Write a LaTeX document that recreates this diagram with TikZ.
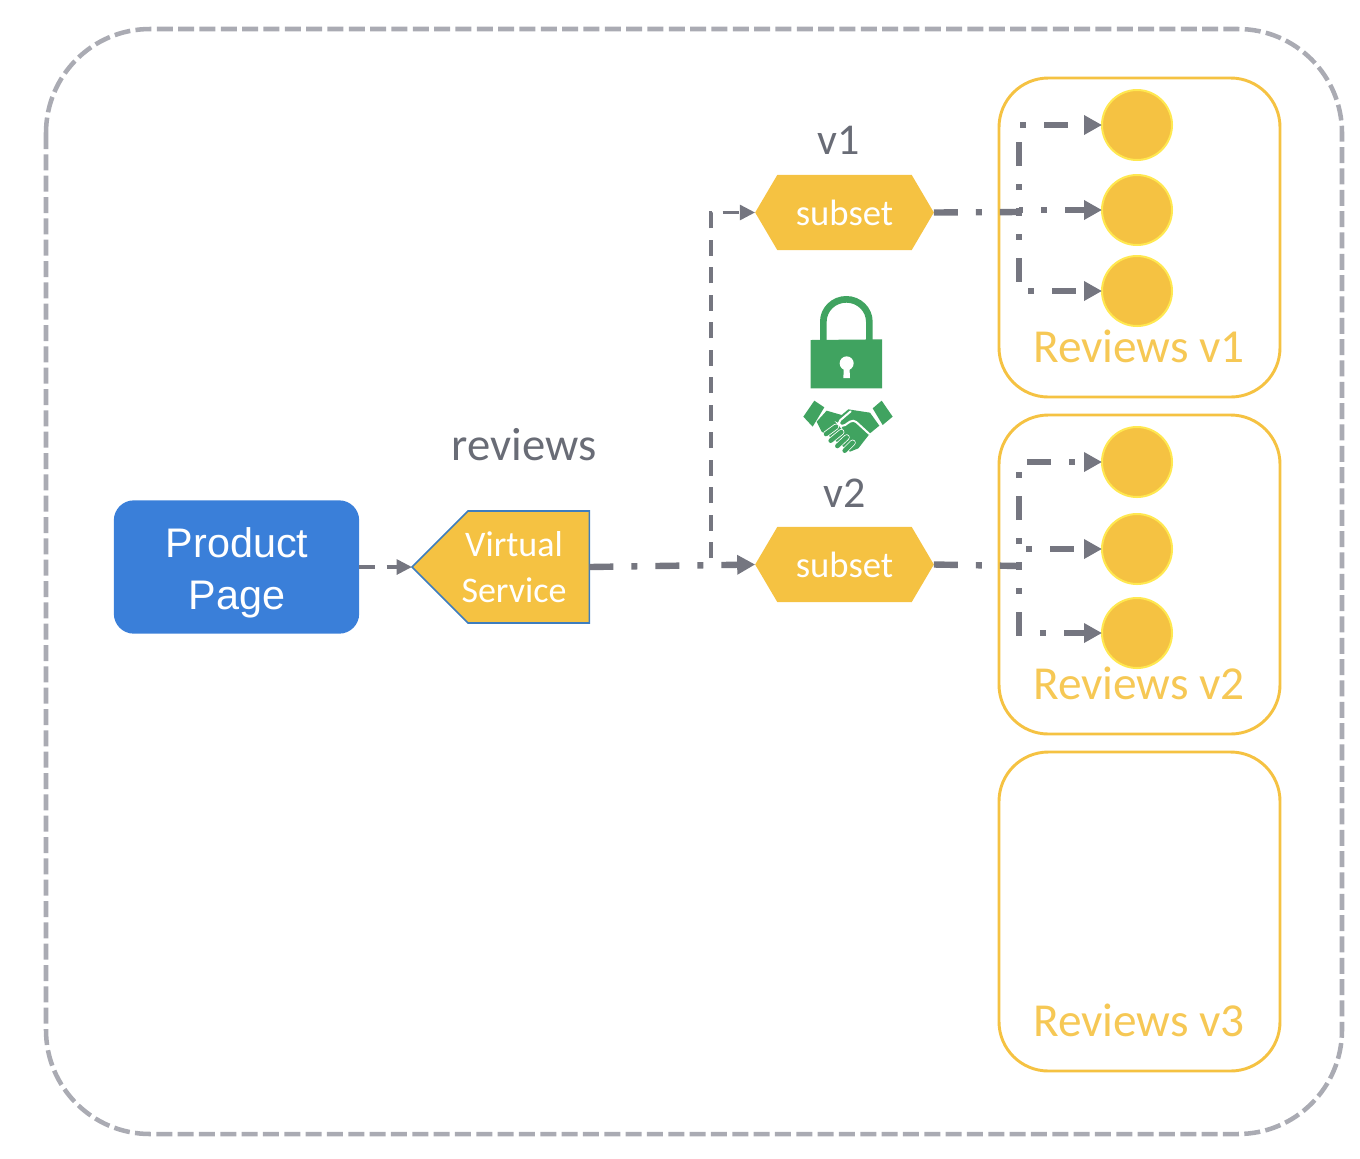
\documentclass[tikz,border=0pt]{standalone}
\usepackage{fontspec}
\setmainfont{Carlito}
\newfontfamily\arialfont{Liberation Sans}
\usetikzlibrary{positioning,arrows.meta,shapes.symbols}
\definecolor{flowgray}{RGB}{117,118,128}
\definecolor{meshgray}{RGB}{170,171,179}
\definecolor{labelgray}{RGB}{105,108,118}
\definecolor{gold}{RGB}{245,194,66}
\definecolor{podrim}{RGB}{255,232,80}
\definecolor{pagebluefill}{RGB}{58,127,217}
\definecolor{vsblue}{RGB}{62,125,190}
\definecolor{lockgreen}{RGB}{64,163,96}
\tikzset{
  meshbox/.style ={draw=meshgray, line width=3.4pt, rounded corners=78pt, dash pattern=on 12pt off 4pt},
  podbox/.style  ={draw=gold, line width=2.2pt, rounded corners=37pt, minimum width=210.75pt,
                   minimum height=239.25pt, inner sep=0pt, outer sep=0pt},
  podname/.style ={text=gold!90!white, font=\fontsize{35.5pt}{40pt}\selectfont, inner sep=0pt},
  pod/.style     ={circle, draw=podrim, line width=1.5pt, fill=gold, minimum size=52.5pt,
                   inner sep=0pt, outer sep=0pt},
  pagebox/.style ={fill=pagebluefill, rounded corners=15pt, minimum width=184pt, minimum height=100pt,
                   inner sep=0pt, outer sep=0pt},
  pagetext/.style={align=center, text=white, inner sep=0pt, font=\arialfont\fontsize{31pt}{39pt}\selectfont},
  vsbox/.style   ={signal, signal to=west, signal pointer angle=90, draw=vsblue, fill=gold, line width=1.2pt,
                   minimum width=133pt, minimum height=84pt, inner sep=0pt, outer sep=0pt},
  subsetbox/.style={signal, signal to=east and west, signal pointer angle=119, fill=gold,
                   minimum width=134pt, minimum height=56.5pt, inner sep=0pt, outer sep=0pt,
                   text=white, font=\fontsize{27.5pt}{32pt}\selectfont},
  vstext/.style  ={text=white, align=center, inner sep=0pt, font=\fontsize{27pt}{34pt}\selectfont},
  graytext/.style={text=labelgray, inner sep=0pt, font=\fontsize{33pt}{38pt}\selectfont},
  ar/.style      ={-{Triangle[length=13.5pt,width=14pt]}, draw=flowgray, line width=4.8pt,
                   dash pattern=on 18pt off 13.5pt on 4.5pt off 13.5pt},
  thinar/.style  ={-{Triangle[length=11.5pt,width=11pt]}, draw=flowgray, line width=2.8pt,
                   dash pattern=on 12pt off 8.6pt},
  fan/.style     ={draw=flowgray, line width=4.8pt, dash pattern=on 18pt off 13.5pt on 4.5pt off 13.5pt},
  fanar/.style   ={fan, -{Triangle[length=13.5pt,width=14pt]}, dash phase=15pt},
}
\begin{document}
\begin{tikzpicture}[x=0.75pt,y=-0.75pt]
\useasboundingbox (0,0) rectangle (1360,1158);
\draw[meshbox] (46,29) rectangle (1342,1134);

\node[podbox] (box1) at (1139.5,237.5) {};
\node[podbox] (box2) at (1139.5,574.5) {};
\node[podbox] (box3) at (1139.5,911.5) {};
\node[podname] (name1) at (1139,346) {Reviews v1};
\node[podname] (name2) at (1139,683) {Reviews v2};
\node[podname] (name3) at (1139,1020) {Reviews v3};

\node[pod] (pod1a) at (1137,125) {};
\node[pod] (pod1b) at (1137,210) {};
\node[pod] (pod1c) at (1137,291) {};
\node[pod] (pod2a) at (1137,462) {};
\node[pod] (pod2b) at (1137,549) {};
\node[pod] (pod2c) at (1137,633) {};

\node[pagebox] (page) at (236.5,567) {};
\node[pagetext] (pagelabel) at (237,573) {Product\\Page};
\node[vsbox,anchor=west] (vs) at (412,567) {};
\node[vstext] (vslabel) at (514,567) {Virtual\\Service};
\node[graytext,font=\fontsize{35pt}{40pt}\selectfont] (reviews) at (524,445) {reviews};

\node[subsetbox] (sub1) at (844.5,212.5) {subset};
\node[subsetbox] (sub2) at (844.5,564.5) {subset};
\node[graytext] (v1) at (839,140) {v1};
\node[graytext] (v2) at (845,493) {v2};

\coordinate (split) at (711,566);
\coordinate (fork1) at (1019,212);
\coordinate (fork2) at (1019,566);

\draw[thinar] (page.east) -- (vs.west);
\draw[ar] (vs.east) -- (sub2.west);
\draw[thinar,dash phase=14.6pt] (split) |- (sub1.west);

\draw[fan] (sub1.east) -- (fork1);
\draw[fanar] (fork1) |- (pod1a);
\draw[fanar] (fork1 |- pod1b) -- (pod1b);
\draw[fanar] (fork1) |- (pod1c);

\draw[fan] (sub2.east) -- (fork2);
\draw[fanar] (fork2) |- (pod2a);
\draw[fanar,dash phase=26pt] (fork2 |- pod2b) -- (pod2b);
\draw[fanar] (fork2) |- (pod2c);

\begin{scope}[shift={(780,280)},x=0.25pt,y=-0.25pt]
\draw[lockgreen,line width=5pt] (130,180) -- (130,125) arc[start angle=180,end angle=360,x radius=69,y radius=67] -- (268,180);
\fill[lockgreen] (92,180) -- (306,178) -- (306,325) -- (92,325) -- cycle;
\fill[white] (200,250) circle[radius=21];
\fill[white] (192,255) -- (208,255) -- (210,294) -- (190,294) -- cycle;
\fill[lockgreen] (103,362) -- (133,382) -- (98,440) -- (70,410) -- cycle;
\fill[lockgreen] (305,362) -- (338,410) -- (308,435) -- (278,385) -- cycle;
\fill[lockgreen] (140,392) -- (185,405) -- (205,388) -- (270,398) -- (298,437) -- (270,460)
  -- (235,505) -- (210,515) -- (150,470) -- (125,455) -- (110,425) -- cycle;
\foreach \fa/\fb/\fc/\fd in {168/440/138/462, 184/456/152/482, 200/472/172/498, 218/488/194/512} {
  \draw[white,line width=4.6pt,line cap=round] (\fa,\fb) -- (\fc,\fd);
  \draw[lockgreen,line width=3.4pt,line cap=round] (\fa,\fb) -- (\fc,\fd);
}
\draw[white,line width=1.5pt,line cap=round,rounded corners=3pt] (212,394) -- (172,428) -- (185,442) -- (220,418) -- (268,462);
\end{scope}
\end{tikzpicture}
\end{document}
